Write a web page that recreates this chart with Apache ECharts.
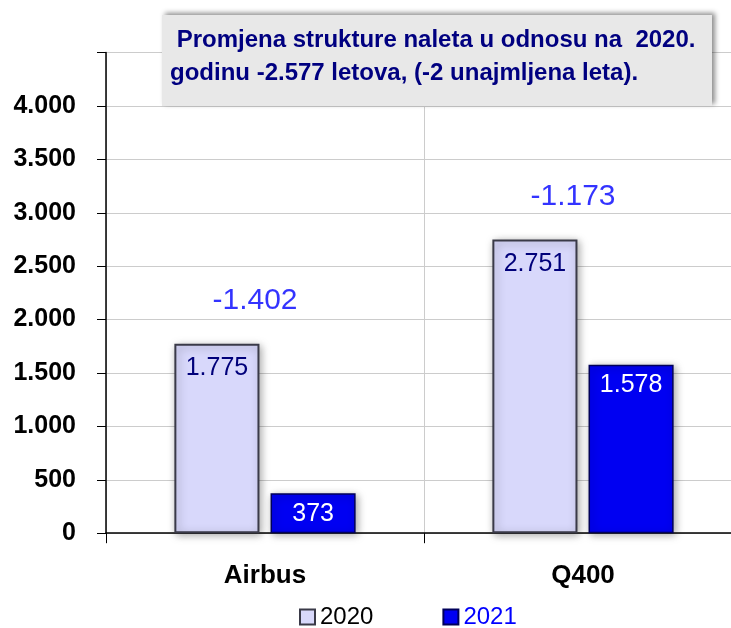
<!DOCTYPE html>
<html><head><meta charset="utf-8">
<script src="https://cdn.jsdelivr.net/npm/echarts@6/dist/echarts.min.js"></script>
<style>html,body{margin:0;padding:0;background:#fff}#c{width:731px;height:628px}</style>
</head><body><div id="c"></div>
<script>
const categories = ['Airbus', 'Q400'];
const seriesNames = ['2020', '2021'];
const values2020 = [1775, 2751];
const values2021 = [373, 1578];
const yTicks = [0, 500, 1000, 1500, 2000, 2500, 3000, 3500, 4000];
const titleLines = [' Promjena strukture naleta u odnosu na  2020.', 'godinu -2.577 letova, (-2 unajmljena leta).'];

function fmt(v) {
  const s = String(Math.abs(Math.round(v)));
  const out = s.replace(/\B(?=(\d{3})+(?!\d))/g, '.');
  return (v < 0 ? '-' : '') + out;
}
const diffs = values2020.map((v, i) => values2021[i] - v);

const FONT = '"Liberation Sans", Arial, sans-serif';
const chart = echarts.init(document.getElementById('c'));
chart.setOption({
  animation: false,
  textStyle: { fontFamily: FONT },
  grid: { left: 106, top: 52.6, width: 636, height: 480.6, outerBoundsMode: 'none', containLabel: false },
  legend: {
    top: 600, left: 294, itemGap: 69, itemWidth: 15, itemHeight: 15, icon: 'rect',
    textStyle: { fontSize: 24, fontFamily: FONT },
    data: [
      { name: '2020', textStyle: { color: '#000' } },
      { name: '2021', textStyle: { color: '#0000ff' } }
    ]
  },
  xAxis: {
    type: 'category', data: categories,
    axisLine: { lineStyle: { color: '#000', width: 1.5 } },
    axisTick: { show: true, length: 10, lineStyle: { color: '#000' } },
    axisLabel: { fontSize: 26, color: '#000', margin: 30, fontWeight: 'bold', fontFamily: FONT },
    splitLine: { show: true, lineStyle: { color: '#cccccc' } }
  },
  yAxis: {
    type: 'value', min: 0, max: 4500, interval: 500,
    axisLine: { show: true, lineStyle: { color: '#000', width: 1.5 } },
    axisTick: { show: true, length: 9, lineStyle: { color: '#000' } },
    axisLabel: { fontSize: 25, color: '#000', margin: 30, fontWeight: 'bold', fontFamily: FONT,
      formatter: v => (yTicks.indexOf(v) >= 0 ? fmt(v) : '') },
    splitLine: { show: true, lineStyle: { color: '#cccccc' } }
  },
  series: [
    {
      name: '2020', type: 'bar', data: values2020, barGap: '13%', barCategoryGap: '43%',
      itemStyle: { color: '#d8d8fb', borderColor: '#3a3a48', borderWidth: 2,
        shadowBlur: 8, shadowColor: 'rgba(0,0,0,0.35)', shadowOffsetX: 2, shadowOffsetY: 2 },
      label: { show: true, position: 'insideTop', distance: 12, fontSize: 25, color: '#00007a',
        fontFamily: FONT, formatter: p => fmt(p.value) }
    },
    {
      name: '2021', type: 'bar', data: values2021,
      itemStyle: { color: '#0000f2', borderColor: '#00005a', borderWidth: 1.5,
        shadowBlur: 8, shadowColor: 'rgba(0,0,0,0.35)', shadowOffsetX: 2, shadowOffsetY: 2 },
      label: { show: true, position: 'insideTop', distance: 8, fontSize: 25, color: '#fff',
        fontFamily: FONT, formatter: p => fmt(p.value) }
    },
    {
      name: 'diff', type: 'scatter', symbolSize: 0, silent: true,
      data: categories.map((c, i) => ({ value: [c, values2020[i]], diff: diffs[i] })),
      label: { show: true, position: 'top', distance: 28, offset: [-10, 0], fontSize: 30,
        color: '#0000ff', fontFamily: FONT, formatter: p => fmt(p.data.diff) }
    }
  ],
  graphic: [
    { type: 'rect', shape: { x: 162, y: 15, width: 550, height: 91 },
      style: { fill: '#e8e8e8', shadowBlur: 5, shadowColor: 'rgba(0,0,0,0.45)', shadowOffsetX: 3, shadowOffsetY: -2 }, z: 10 },
    { type: 'text', x: 170, y: 24, z: 11,
      style: { text: titleLines.join('\n'), fill: '#000080', font: 'bold 24px ' + FONT, lineHeight: 33 } }
  ]
});
</script></body></html>
